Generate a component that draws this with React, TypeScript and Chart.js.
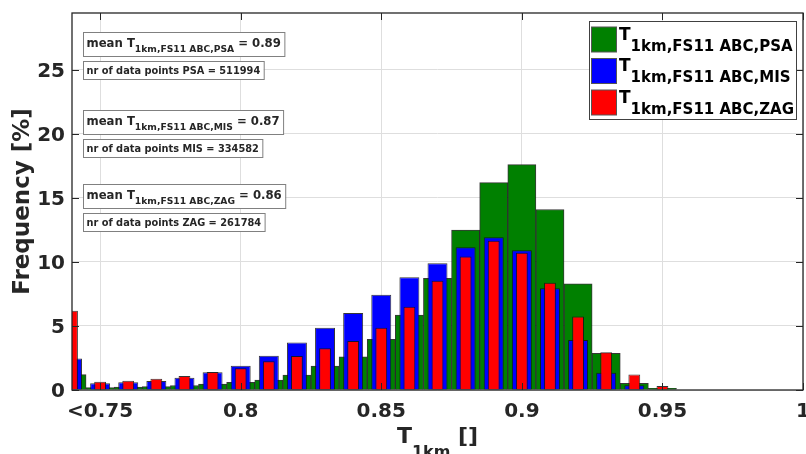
import React, { useEffect, useRef } from "react";
import { Chart, registerables } from "chart.js";

Chart.register(...registerables);

// ---------- data ----------
const binCenters = [0.74, 0.75, 0.76, 0.77, 0.78, 0.79, 0.8, 0.81, 0.82, 0.83, 0.84, 0.85, 0.86, 0.87, 0.88, 0.89, 0.9, 0.91, 0.92, 0.93, 0.94, 0.95];
const freqPSA = [1.2, 0.18, 0.22, 0.26, 0.35, 0.47, 0.6, 0.78, 1.17, 1.87, 2.6, 3.96, 5.86, 8.72, 12.5, 16.2, 17.6, 14.1, 8.3, 2.86, 0.52, 0.13];
const freqMIS = [2.47, 0.52, 0.6, 0.7, 0.96, 1.38, 1.9, 2.68, 3.72, 4.87, 6.02, 7.45, 8.8, 9.9, 11.15, 11.93, 10.91, 7.94, 3.9, 1.35, 0.37, 0.05];
const freqZAG = [6.2, 0.65, 0.73, 0.88, 1.09, 1.4, 1.69, 2.24, 2.66, 3.26, 3.83, 4.87, 6.51, 8.54, 10.42, 11.66, 10.73, 8.38, 5.75, 2.94, 1.22, 0.31];

const xTickValues = [0.75, 0.8, 0.85, 0.9, 0.95, 1];
const xTickLabels = ["<0.75", "0.8", "0.85", "0.9", "0.95", "1"];
const yTickValues = [0, 5, 10, 15, 20, 25];

const groupNames = ["PSA", "MIS", "ZAG"];
const groupMeans = ["0.89", "0.87", "0.86"];
const groupCounts = ["511994", "334582", "261784"];
const seriesColors = ["#008000", "#0000ff", "#ff0000"];
const subscriptBase = "1km,FS11 ABC,";

const X_MIN = 0.74;
const X_MAX = 1.0;
const Y_MIN = 0;
const Y_MAX = 29.45;

// ---------- drawing helpers ----------
const FAMILY = '"DejaVu Sans", Verdana, sans-serif';
const TEXT_COLOR = "#262626";
const font = (size: number) => `bold ${size}px ${FAMILY}`;

type Run = { t: string; size: number; dy: number };

function measureRuns(ctx: CanvasRenderingContext2D, runs: Run[]) {
  let w = 0;
  for (const r of runs) {
    ctx.font = font(r.size);
    w += ctx.measureText(r.t).width;
  }
  return w;
}

function drawRuns(ctx: CanvasRenderingContext2D, x: number, baseline: number, runs: Run[]) {
  let cx = x;
  ctx.textAlign = "left";
  ctx.textBaseline = "alphabetic";
  for (const r of runs) {
    ctx.font = font(r.size);
    ctx.fillText(r.t, cx, baseline + r.dy);
    cx += ctx.measureText(r.t).width;
  }
  return cx - x;
}

const decorPlugin = {
  id: "matlabDecor",
  afterDraw(chart: any) {
    const { ctx, chartArea: a, scales } = chart;
    const xs = scales.x;
    const ys = scales.y;
    ctx.save();

    // axis box
    ctx.strokeStyle = TEXT_COLOR;
    ctx.lineWidth = 1.3;
    ctx.strokeRect(a.left, a.top, a.right - a.left, a.bottom - a.top);

    // inward tick marks
    ctx.lineWidth = 1;
    const tl = 7;
    ctx.beginPath();
    for (const v of xTickValues) {
      const px = Math.round(xs.getPixelForValue(v)) + 0.5;
      ctx.moveTo(px, a.bottom);
      ctx.lineTo(px, a.bottom - tl);
      ctx.moveTo(px, a.top);
      ctx.lineTo(px, a.top + tl);
    }
    for (const v of yTickValues) {
      const py = Math.round(ys.getPixelForValue(v)) + 0.5;
      ctx.moveTo(a.left, py);
      ctx.lineTo(a.left + tl, py);
      ctx.moveTo(a.right, py);
      ctx.lineTo(a.right - tl, py);
    }
    ctx.stroke();

    // tick labels
    ctx.fillStyle = TEXT_COLOR;
    ctx.font = font(20);
    ctx.textBaseline = "alphabetic";
    ctx.textAlign = "center";
    xTickValues.forEach((v, i) => {
      ctx.fillText(xTickLabels[i], xs.getPixelForValue(v), a.bottom + 27);
    });
    ctx.textAlign = "right";
    yTickValues.forEach((v) => {
      ctx.fillText(String(v), a.left - 7, ys.getPixelForValue(v) + 7.3);
    });

    // x axis title
    const xRuns: Run[] = [
      { t: "T", size: 22, dy: 0 },
      { t: "1km", size: 16, dy: 14 },
      { t: " []", size: 22, dy: 0 },
    ];
    const xw = measureRuns(ctx, xRuns);
    drawRuns(ctx, (a.left + a.right) / 2 - xw / 2, a.bottom + 53, xRuns);

    // y axis title
    ctx.save();
    ctx.translate(29, (a.top + a.bottom) / 2);
    ctx.rotate(-Math.PI / 2);
    ctx.font = font(23);
    ctx.textAlign = "center";
    ctx.fillText("Frequency [%]", 0, 0);
    ctx.restore();

    // annotation boxes
    const meanTops = [a.top + 19, a.top + 97, a.top + 171];
    groupNames.forEach((g, i) => {
      const top = meanTops[i];
      const bx = a.left + 11;
      const runs: Run[] = [
        { t: "mean T", size: 11.7, dy: 0 },
        { t: subscriptBase + g, size: 9.2, dy: 5.5 },
        { t: " = " + groupMeans[i], size: 11.7, dy: 0 },
      ];
      const w = measureRuns(ctx, runs);
      ctx.fillStyle = "#ffffff";
      ctx.fillRect(bx, top, w + 7, 24);
      ctx.strokeStyle = "#808080";
      ctx.lineWidth = 1;
      ctx.strokeRect(bx + 0.5, top + 0.5, w + 7, 24);
      ctx.fillStyle = TEXT_COLOR;
      drawRuns(ctx, bx + 3.5, top + 14.5, runs);

      const top2 = top + 29;
      const txt = `nr of data points ${g} = ${groupCounts[i]}`;
      ctx.font = font(9.8);
      const w2 = ctx.measureText(txt).width;
      ctx.fillStyle = "#ffffff";
      ctx.fillRect(bx, top2, w2 + 7, 18);
      ctx.strokeStyle = "#808080";
      ctx.strokeRect(bx + 0.5, top2 + 0.5, w2 + 7, 18);
      ctx.fillStyle = TEXT_COLOR;
      ctx.textAlign = "left";
      ctx.fillText(txt, bx + 3.5, top2 + 13);
    });

    // legend
    const lx = 589.5;
    const ly = 21.5;
    const lw = 207;
    const lh = 98;
    ctx.fillStyle = "#ffffff";
    ctx.fillRect(lx, ly, lw, lh);
    ctx.strokeStyle = "#404040";
    ctx.lineWidth = 1;
    ctx.strokeRect(lx, ly, lw, lh);
    const rowCenters = [39.5, 71, 102.5];
    groupNames.forEach((g, i) => {
      const cy = rowCenters[i];
      ctx.fillStyle = seriesColors[i];
      ctx.fillRect(591.5, cy - 12.5, 25, 25);
      ctx.strokeStyle = "#555555";
      ctx.strokeRect(591.5, cy - 12.5, 25, 25);
      ctx.fillStyle = "#000000";
      drawRuns(ctx, 619, cy + 0, [
        { t: "T", size: 17, dy: 0 },
        { t: subscriptBase + g, size: 15, dy: 11 },
      ]);
    });

    ctx.restore();
  },
};

function makeDataset(label: string, values: number[], color: string, ratio: number, order: number) {
  return {
    label,
    data: binCenters.map((x, i) => ({ x, y: values[i] })),
    backgroundColor: color,
    borderColor: "rgba(20,20,20,0.85)",
    borderWidth: 1,
    barPercentage: ratio,
    categoryPercentage: 1,
    grouped: false,
    order,
  };
}

export default function App() {
  const ref = useRef<HTMLCanvasElement | null>(null);

  useEffect(() => {
    document.body.style.margin = "0";
    const canvas = ref.current;
    if (!canvas) return;
    const chart = new Chart(canvas, {
      type: "bar",
      data: {
        datasets: [
          makeDataset("PSA", freqPSA, seriesColors[0], 1.0, 3),
          makeDataset("MIS", freqMIS, seriesColors[1], 0.71, 2),
          makeDataset("ZAG", freqZAG, seriesColors[2], 0.42, 1),
        ] as any,
      },
      options: {
        animation: false,
        responsive: false,
        devicePixelRatio: 1,
        layout: { padding: { left: 72, right: 3, top: 13, bottom: 64 } },
        plugins: { legend: { display: false }, tooltip: { enabled: false } },
        scales: {
          x: {
            type: "linear",
            min: X_MIN,
            max: X_MAX,
            offset: false,
            grid: { offset: false, color: "#dedede", drawTicks: false, lineWidth: 1 },
            border: { display: false },
            ticks: { display: false },
            afterBuildTicks: (s: any) => {
              s.ticks = xTickValues.map((v) => ({ value: v }));
            },
          },
          y: {
            type: "linear",
            min: Y_MIN,
            max: Y_MAX,
            grid: { color: "#dedede", drawTicks: false, lineWidth: 1 },
            border: { display: false },
            ticks: { display: false },
            afterBuildTicks: (s: any) => {
              s.ticks = yTickValues.map((v) => ({ value: v }));
            },
          },
        },
      } as any,
      plugins: [decorPlugin],
    });
    return () => chart.destroy();
  }, []);

  return (
    <div style={{ position: "fixed", left: 0, top: 0, width: 806, height: 454, background: "#ffffff" }}>
      <canvas ref={ref} width={806} height={454} style={{ display: "block", width: 806, height: 454 }} />
    </div>
  );
}
